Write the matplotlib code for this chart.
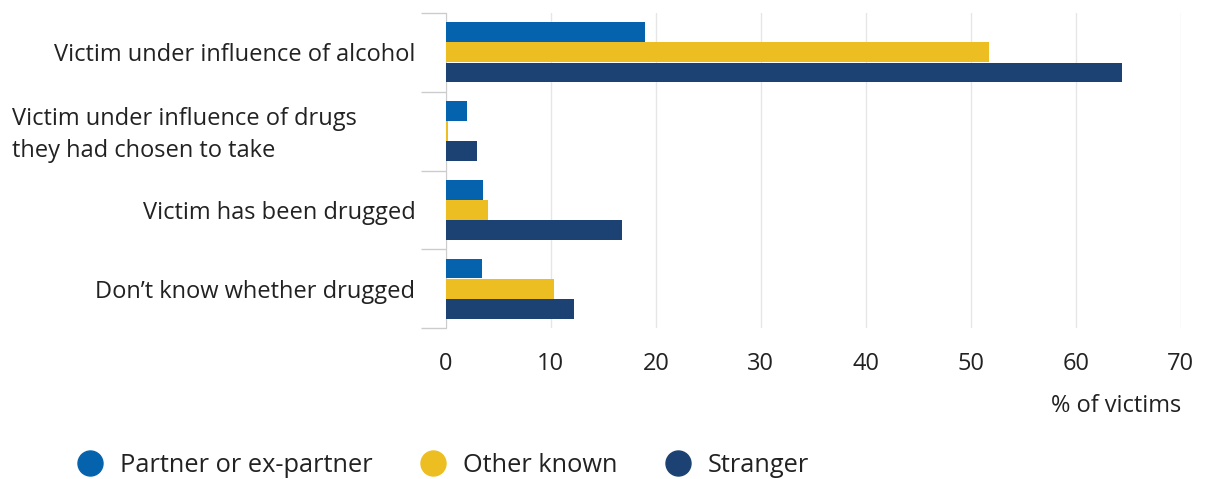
import matplotlib.pyplot as plt
import numpy as np
from matplotlib.lines import Line2D
from matplotlib.transforms import blended_transform_factory

plt.rcParams['font.family'] = ['Open Sans', 'DejaVu Sans']

# data
categories = ['Victim under influence of alcohol',
              'Victim under influence of drugs\nthey had chosen to take',
              'Victim has been drugged',
              "Don\u2019t know whether drugged"]
series = ['Partner or ex-partner', 'Other known', 'Stranger']
partner = [19.0, 2.0, 3.5, 3.4]
other_known = [51.7, 0.2, 4.0, 10.3]
stranger = [64.4, 3.0, 16.8, 12.2]
xticks = [0, 10, 20, 30, 40, 50, 60, 70]

colors = ['#0563ae', '#edbe21', '#1b4272']
values = [partner, other_known, stranger]
fs = 17

fig = plt.figure(figsize=(12.05, 4.79), dpi=100)
ax = fig.add_axes([0.370, 0.315, 0.610, 0.658])

y = np.arange(len(categories))
h = 0.25
for i, (vals, c) in enumerate(zip(values, colors)):
    ax.barh(y + (i - 1) * 0.255, vals, height=h, color=c, zorder=3)

ax.set_xlim(0, 70)
ax.set_ylim(3.5, -0.5)
ax.set_xticks(xticks)
ax.set_xticklabels([str(t) for t in xticks], fontsize=fs, color='#222222')
ax.set_yticks(y)
# the wrapped label sits left-aligned in the reference, so draw it apart
ylabels = [c if '\n' not in c else '' for c in categories]
ax.set_yticklabels(ylabels, fontsize=fs, color='#222222')
trans = blended_transform_factory(fig.transFigure, ax.transData)
for yi, c in zip(y, categories):
    if '\n' in c:
        ax.text(0.010, yi + 0.05, c, transform=trans, ha='left', va='center',
                fontsize=fs, color='#222222', linespacing=1.45)
ax.set_yticks(np.arange(-0.5, 4, 1), minor=True)
ax.tick_params(axis='y', which='major', length=0, pad=22)
ax.tick_params(axis='y', which='minor', length=18, color='#cccccc', width=1)
ax.tick_params(axis='x', length=0, pad=17)

ax.grid(axis='x', color='#e6e6e6', linewidth=1, zorder=0)
for s in ['top', 'right', 'bottom']:
    ax.spines[s].set_visible(False)
ax.spines['left'].set_color('#cccccc')

ax.set_xlabel('% of victims', fontsize=fs, color='#222222')
ax.xaxis.set_label_coords(1.0, -0.21)
ax.xaxis.label.set_horizontalalignment('right')

handles = [Line2D([], [], marker='o', linestyle='none', markersize=18,
                  markerfacecolor=c, markeredgecolor=c) for c in colors]
fig.legend(handles, series, loc='lower left', bbox_to_anchor=(0.045, -0.045),
           ncol=3, frameon=False, fontsize=18.3, handletextpad=0.67,
           handlelength=1.0, columnspacing=1.9, labelcolor='#222222')

fig.savefig('out.png', dpi=100, facecolor='white')
